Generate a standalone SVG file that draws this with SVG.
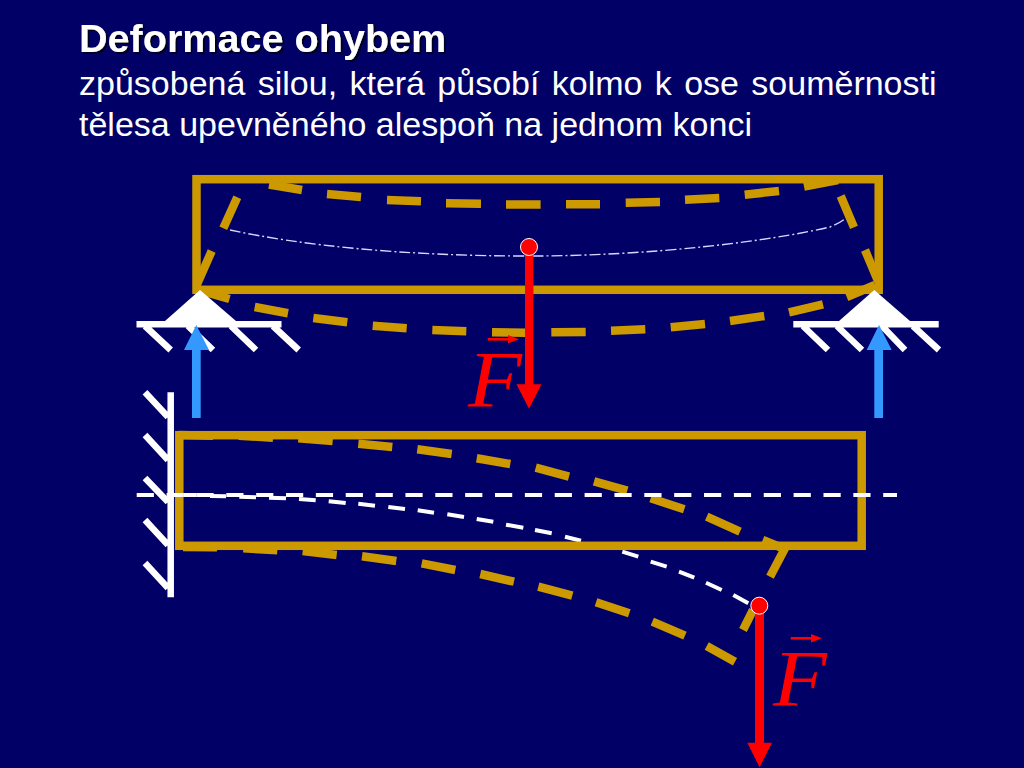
<svg xmlns="http://www.w3.org/2000/svg" width="1024" height="768" viewBox="0 0 1024 768">
<style>
.t{font-family:"Liberation Sans",Arial,sans-serif;fill:#fff}
.beam{fill:none;stroke:#cc9900;stroke-width:8.5}
.def{fill:none;stroke:#cc9900;stroke-width:8.5}
.w{fill:none;stroke:#fff;stroke-width:6.5}
.wd{fill:none;stroke:#fff;stroke-width:4}
.red{fill:#f00;stroke:none}
.blue{fill:#3399ff;stroke:none}
.dot{fill:#f00;stroke:#fff;stroke-width:1}
.f{font-family:"Liberation Serif","Times New Roman",serif;font-style:italic;font-size:80px;fill:#f00}
</style>
<defs>
<filter id="sh" x="-5%" y="-20%" width="110%" height="140%"><feDropShadow dx="2" dy="2" stdDeviation="0.6" flood-color="#000022" flood-opacity="1"/></filter>
</defs>
<rect width="1024" height="768" fill="#000066"/>
<g id="heading">
<text class="t" x="79" y="52" font-size="39.6" font-weight="700" filter="url(#sh)">Deformace ohybem</text>
<text class="t" x="79" y="95" font-size="34" word-spacing="2.9">způsobená silou, která působí kolmo k ose souměrnosti</text>
<text class="t" x="79" y="136" font-size="34">tělesa upevněného alespoň na jednom konci</text>
</g>
<g id="simple-beam">
<path class="def" d="M269 184.5L302 190M327 194L361 197M387 200L421 201.3M446 203.3L481 203.7M506 204.6L540.6 204.6M566 204.3L600 204.3M625.7 202.7L660 202M685 199.7L719.3 198M744.7 194.7L779 191M804 186.7L838 180M840.7 196L854 227.3M865 250L878.3 281.7M237.3 197.3L223.3 228.3M211.7 251L196.7 285"/>
<path class="def" d="M198 290L229.5 299M254.7 307L288 313.3M313.3 318L347.3 322.3M372.7 325.7L406.7 328.3M432.3 330L466.3 331.3M492 332.3L526 332.7M551.3 332.3L585.7 332M611 330.7L645.3 329.3M670.7 327.3L705 324M730 321L764.3 316M789 312.3L823 304.3M846.7 297L875 285"/>
<rect class="beam" x="196.5" y="179.2" width="682.2" height="110.6"/>
<path d="M230 230C300 245 400 256 529 256C653 256 770 241 830 227Q840 223 846 218" fill="none" stroke="#d8d8ff" stroke-width="1.4" stroke-dasharray="11 3 2 3"/>
</g>
<g id="support-left">
<polygon points="200,290 165,321 236,321" fill="#fff"/>
<path class="w" d="M136.5 324.2H281.5M145 326L170.7 350M188 326L213 350M231 326L256 350M273 326L298.7 350"/>
<polygon class="blue" points="192,418 200.7,418 200.7,350 209,350 196.3,325 184,350 192,350"/>
</g>
<g id="support-right">
<polygon points="874.3,290 839,321 910,321" fill="#fff"/>
<path class="w" d="M793.3 324.2H938.7M803 326L828 350M837 326L862 350M882 326L905 350M913 326L939 350"/>
<polygon class="blue" points="874.3,418 883,418 883,350 891.7,350 879,325 866.7,350 874.3,350"/>
</g>
<g id="force-top">
<rect class="red" x="525" y="247" width="8.4" height="138"/>
<polygon class="red" points="516.5,384.3 541.5,384.3 529,408.7"/>
<circle class="dot" cx="529" cy="247" r="8.5"/>
<text class="f" transform="translate(468 407) scale(1.1 1)">F</text>
<path d="M487.7 339.3H510" stroke="#f00" stroke-width="2.6" fill="none"/>
<polygon class="red" points="508,335 519,339.3 508,343.6"/>
</g>
<g id="wall">
<path class="w" d="M170.7 392.3V597.3M145 392.3L168 417M145 435L168 460M145 478L168 502M145 520L168 545M145 563L168 588"/>
</g>
<g id="cantilever">
<path class="def" d="M179 435L213 435.7M238.7 435.7L273 437.7M298.3 438.3L332.7 441M358.3 443.7L392.3 447M417.3 449.3L451.7 454M476.7 458.3L510.3 464M535.7 467.7L569 476.7M594 481.3L627.3 490.7M650.7 498.3L684.3 509.3M706.7 516.7L740 531.7M762.7 540L783 548.3M785 548.3L770 576.7M753 610L743 630"/>
<path class="def" d="M183 547L217 547.3M243.3 548.3L277.3 550.3M302.7 551L336.7 555M362 556.3L396.3 561M421.7 563.3L455.3 570M480.3 574L514 581.7M538.3 586.7L572.3 595.7M596 602.3L629.3 613.3M652.3 621.7L685 635.7M706.7 646L735 661.7"/>
<path class="wd" d="M180 495L196.7 495M210 496L226 496.3M239.3 496.7L256 497.3M269 497.7L286 498.3M299 499L315.7 500.3M328.7 501.3L345.7 503M358.3 503.7L375 505.7M388.3 507L405 509M417.7 510.3L434 512.7M447.3 514.3L464 517M476.7 519L493.3 521.7M506 524.7L523.3 527.7M535 530L551.7 533.3M565 536.7L581 540.7M594 544L610 548M622.3 551.7L638.3 556.7M650.7 561.7L666.7 566.7M679 571.7L694.3 577.7M706 582.7L721.7 590M733.3 595L748.3 603.3"/>
<rect class="beam" x="179.3" y="435.2" width="682.4" height="110.6"/>
<path class="wd" d="M136.7 495H897" stroke-dasharray="17.2 12.66"/>
</g>
<g id="force-bottom">
<rect class="red" x="755" y="605" width="9" height="139"/>
<polygon class="red" points="747.3,742.7 772,742.7 759.6,767.3"/>
<circle class="dot" cx="759.3" cy="605.7" r="8.5"/>
<text class="f" transform="translate(773 706) scale(1.1 1)">F</text>
<path d="M790.7 638.3H813" stroke="#f00" stroke-width="2.6" fill="none"/>
<polygon class="red" points="811,634 822,638.3 811,642.6"/>
</g>
</svg>
